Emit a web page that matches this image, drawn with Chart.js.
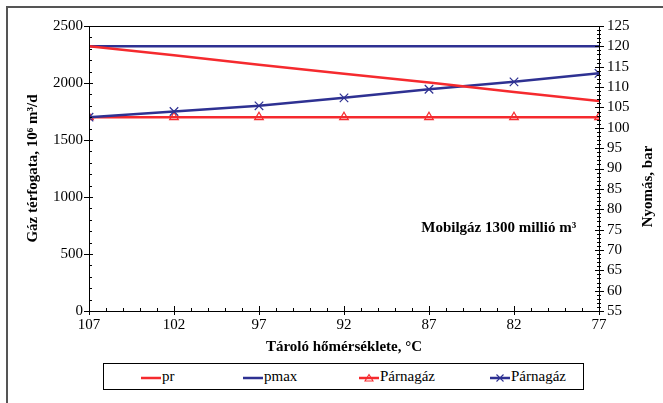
<!DOCTYPE html>
<html>
<head>
<meta charset="utf-8">
<script src="https://cdn.jsdelivr.net/npm/chart.js@4.4.1/dist/chart.umd.min.js"></script>
<style>
  body { margin: 0; background: #fff; }
  #wrap { position: relative; width: 663px; height: 403px; overflow: hidden; }
  #frame { position: absolute; left: 6px; top: 6px; width: 700px; height: 500px;
           border-left: 2px solid #555; border-top: 2px solid #555; }
  canvas { position: absolute; left: 0; top: 0; }
  #legend { position: absolute; left: 103px; top: 363px; width: 479px; height: 25px;
            border: 1px solid #000; background: #fff;
            font: 15px "Liberation Serif", serif; color: #000; }
  .item { position: absolute; top: 0; height: 25px; line-height: 25px; white-space: nowrap; }
  .item svg { vertical-align: middle; margin-right: 1px; }
</style>
</head>
<body>
<div id="wrap">
  <div id="frame"></div>
  <canvas id="chart" width="663" height="403"></canvas>
  <div id="legend"></div>
</div>
<script>
// Tároló hőmérséklete, °C
const temps = [107, 102, 97, 92, 87, 82, 77];
// nyomás, bar (jobb tengely)
const prValues = [120, 117.8, 115.5, 113.3, 111.1, 108.8, 106.6];
const pmaxValues = [120, 120, 120, 120, 120, 120, 120];
// gáz térfogata, 10^6 m3/d (bal tengely)
const parnaRed = [1700, 1700, 1700, 1700, 1700, 1700, 1700];
const parnaBlue = [1700, 1750, 1800, 1870, 1945, 2010, 2085];

const leftTicks = [0, 500, 1000, 1500, 2000, 2500];
const rightTicks = [55, 60, 65, 70, 75, 80, 85, 90, 95, 100, 105, 110, 115, 120, 125];

const RED = '#f52a2e';
const BLUE = '#2e3192';
const serif = '"Liberation Serif", serif';

function pts(values) {
    return temps.map((t, i) => ({ x: t, y: values[i] }));
}

// tick marks, plot box, right title, note
const decor = {
    id: 'decor',
    afterDraw(chart) {
        const { ctx, chartArea: a, scales } = chart;
        const x = scales.x, y = scales.y, y1 = scales.y1;
        ctx.save();
        ctx.strokeStyle = '#000';
        ctx.lineWidth = 1;
        ctx.strokeRect(a.left + 0.5, a.top + 0.5, a.right - a.left, a.bottom - a.top);
        ctx.beginPath();
        for (let v = 77; v <= 107; v++) {
            const px = Math.round(x.getPixelForValue(v)) + 0.5;
            const major = temps.includes(v);
            ctx.moveTo(px, a.bottom - (major ? 5 : 3));
            ctx.lineTo(px, a.bottom + (major ? 4 : 0));
        }
        for (let v = 0; v <= 2500; v += 100) {
            const py = Math.round(y.getPixelForValue(v)) + 0.5;
            const major = v % 500 === 0;
            ctx.moveTo(a.left - (major ? 5 : 0), py);
            ctx.lineTo(a.left + (major ? 4 : 3), py);
        }
        for (let v = 55; v <= 125; v++) {
            const py = Math.round(y1.getPixelForValue(v)) + 0.5;
            const major = v % 5 === 0;
            ctx.moveTo(a.right - (major ? 4 : 2), py);
            ctx.lineTo(a.right + (major ? 5 : 2), py);
        }
        ctx.stroke();

        ctx.fillStyle = '#000';
        ctx.font = 'bold 15px ' + serif;
        ctx.textAlign = 'center';
        ctx.textBaseline = 'middle';
        ctx.save();
        ctx.translate(648, (a.top + a.bottom) / 2 + 18);
        ctx.rotate(-Math.PI / 2);
        ctx.fillText('Nyomás, bar', 0, 0);
        ctx.restore();

        ctx.fillText('Mobilgáz 1300 millió m³', x.getPixelForValue(82.9), y.getPixelForValue(730));
        ctx.restore();
    }
};

const tickFont = { family: serif, size: 15 };
const titleFont = { family: serif, size: 15, weight: 'bold' };
const plain = v => String(v);

new Chart(document.getElementById('chart'), {
    type: 'line',
    data: {
        datasets: [
            { label: 'pr', data: pts(prValues), yAxisID: 'y1', borderColor: RED, borderWidth: 2.5, pointRadius: 0 },
            { label: 'pmax', data: pts(pmaxValues), yAxisID: 'y1', borderColor: BLUE, borderWidth: 2.5, pointRadius: 0 },
            { label: 'Párnagáz', data: pts(parnaBlue), yAxisID: 'y', borderColor: BLUE, borderWidth: 2.5,
              pointStyle: 'crossRot', pointRadius: 6, pointBorderWidth: 1.2, pointBorderColor: BLUE },
            { label: 'Párnagáz', data: pts(parnaRed), yAxisID: 'y', borderColor: RED, borderWidth: 2.5,
              pointStyle: 'triangle', pointRadius: 5, pointBorderWidth: 1.2, pointBorderColor: RED,
              pointBackgroundColor: 'rgba(0,0,0,0)' }
        ]
    },
    options: {
        responsive: false,
        animation: false,
        layout: { padding: { left: 0, top: 26, right: 0, bottom: 42 } },
        plugins: { legend: { display: false }, tooltip: { enabled: false } },
        scales: {
            x: {
                type: 'linear',
                reverse: true,
                min: 77,
                max: 107,
                afterBuildTicks: s => { s.ticks = temps.map(v => ({ value: v })); },
                afterFit: s => { s.height = 50; },
                grid: { display: false, drawTicks: false },
                border: { display: false },
                ticks: { color: '#000', font: tickFont, padding: 5, maxRotation: 0, autoSkip: false, callback: plain },
                title: { display: true, text: 'Tároló hőmérséklete, °C', color: '#000',
                         font: titleFont, padding: { top: 0, bottom: 5 } }
            },
            y: {
                position: 'left',
                min: 0,
                max: 2500,
                afterBuildTicks: s => { s.ticks = leftTicks.map(v => ({ value: v })); },
                afterFit: s => { s.width = 89; },
                grid: { display: false, drawTicks: false },
                border: { display: false },
                ticks: { color: '#000', font: tickFont, padding: 6, autoSkip: false, callback: plain },
                title: { display: true, text: 'Gáz térfogata, 10⁶ m³/d', color: '#000',
                         font: titleFont, padding: { top: 24, bottom: 0 } }
            },
            y1: {
                position: 'right',
                min: 55,
                max: 125,
                afterBuildTicks: s => { s.ticks = rightTicks.map(v => ({ value: v })); },
                afterFit: s => { s.width = 64; },
                grid: { display: false, drawTicks: false },
                border: { display: false },
                ticks: { color: '#000', font: tickFont, padding: 8, autoSkip: false, callback: plain }
            }
        }
    },
    plugins: [decor]
});

// Legend
const legendItems = [
    { text: 'pr', color: RED, marker: null, left: 37 },
    { text: 'pmax', color: BLUE, marker: null, left: 139 },
    { text: 'Párnagáz', color: RED, marker: 'tri', left: 255 },
    { text: 'Párnagáz', color: BLUE, marker: 'x', left: 386 }
];
const legendEl = document.getElementById('legend');
legendItems.forEach(it => {
    let mark = '';
    if (it.marker === 'tri') {
        mark = `<polygon points="10,6.5 6,13 14,13" fill="none" stroke="${it.color}" stroke-width="1.1"/>`;
    } else if (it.marker === 'x') {
        mark = `<path d="M6.5,6.5 L13.5,13.5 M13.5,6.5 L6.5,13.5" stroke="${it.color}" stroke-width="1.1"/>`;
    }
    const span = document.createElement('span');
    span.className = 'item';
    span.style.left = it.left + 'px';
    span.innerHTML = `<svg width="20" height="20"><line x1="0" y1="10" x2="20" y2="10" stroke="${it.color}" stroke-width="2.5"/>${mark}</svg>${it.text}`;
    legendEl.appendChild(span);
});
</script>
</body>
</html>
